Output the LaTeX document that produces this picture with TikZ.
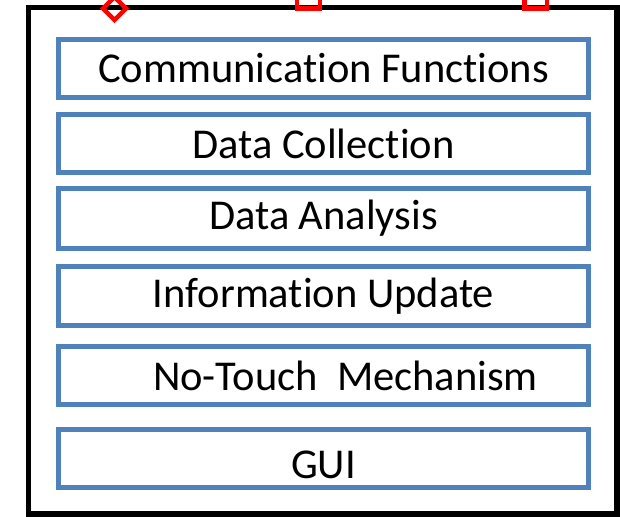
\documentclass[tikz,border=0pt]{standalone}
\usepackage{fontspec}
\setmainfont[Ligatures=NoCommon]{Carlito}
\definecolor{layerblue}{RGB}{79,129,189}
\definecolor{handlered}{RGB}{255,0,0}
\begin{document}
\begin{tikzpicture}[x=1pt,y=-1pt,
  layer/.style={draw=layerblue, line width=5pt, minimum width=530pt,
    inner sep=0pt, font=\fontsize{42.5}{44}\selectfont},
  frame/.style={draw=black, line width=5.5pt},
  handle/.style={draw=handlered, line width=4.5pt}]
\useasboundingbox (0,0) rectangle (620,516);
\begin{scope}
\clip (0,0) rectangle (620,516);
% outer frame
\draw[frame] (28.5,7.5) rectangle (617,514);
% selection handles along the top edge
\draw[handle] (114.5,-3) -- (126,8.5) -- (114.5,20) -- (103,8.5) -- cycle;
\draw[handle] (297,-16) rectangle (320,8.5);
\draw[handle] (524.5,-16) rectangle (547,8.5);
\end{scope}
% software layers
\node[layer, minimum height=58pt] (comm) at (323.5,68.5) {Communication Functions};
\node[layer, minimum height=58pt] (coll) at (323.5,143.5) {Data Collection};
\node[layer, minimum height=60pt] (anal) at (323.5,218.5) {Data Analysis};
\node[layer, minimum height=59pt] (info) at (323.5,296) {Information Update};
\node[layer, minimum height=58pt] (touch) at (323.5,375.5) {\hspace{44pt}No-Touch\ \ Mechanism};
\node[layer, minimum height=58pt] (gui) at (323.5,458) {\raisebox{-20.5pt}[0pt][0pt]{GUI}};
\end{tikzpicture}
\end{document}
